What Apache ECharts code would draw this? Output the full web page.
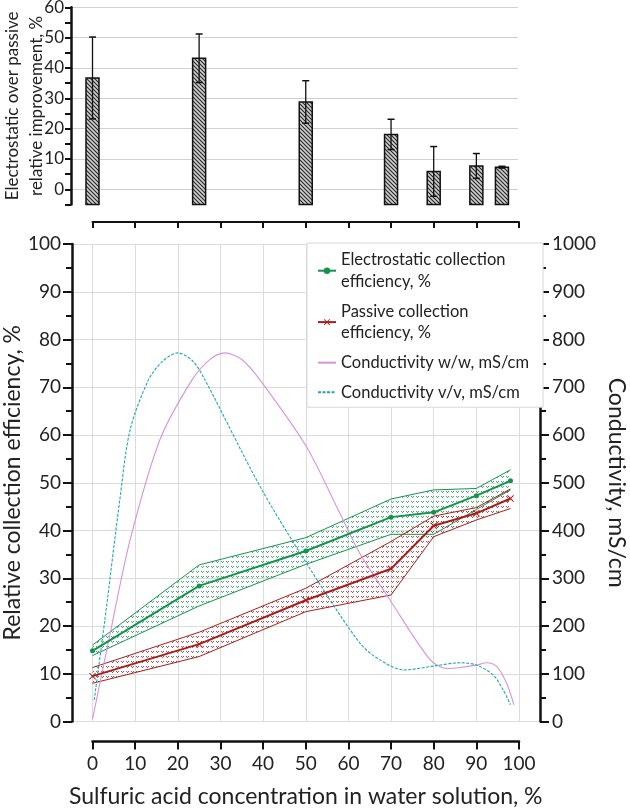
<!DOCTYPE html>
<html><head><meta charset="utf-8">
<script src="https://cdn.jsdelivr.net/npm/echarts@6/dist/echarts.min.js"></script>
<style>html,body{margin:0;padding:0;background:#fff}#c{width:630px;height:810px}</style>
</head><body><div id="c"></div>
<script>
// ---------- data ----------
const concentration = [0, 25, 50, 70, 80, 90, 98];
const elecEff   = [14.8, 28.4, 35.7, 42.8, 43.8, 47.3, 50.4];
const elecUpper = [16.0, 32.8, 38.5, 46.6, 48.5, 48.8, 52.7];
const elecLower = [13.8, 24.2, 32.9, 39.2, 39.2, 44.4, 48.5];
const passEff   = [9.5, 16.2, 25.4, 32.0, 41.0, 43.6, 46.7];
const passUpper = [11.3, 18.7, 27.9, 37.7, 43.0, 44.8, 48.7];
const passLower = [8.0, 13.6, 23.0, 26.5, 38.7, 42.2, 44.6];

const barConc = [0, 25, 50, 70, 80, 90, 96];
const improvement = [36.7, 43.2, 28.8, 18.1, 5.9, 7.7, 7.3];
const improvementErr = [13.5, 8.0, 7.0, 5.0, 8.2, 4.1, 0.3];

const condWWx = [0, 4.5, 8.8, 15.8, 23.3, 27.5, 31, 35, 39.3, 50.2, 58, 62.7, 69.8, 79.1, 83, 86.2, 90, 92.4, 94.8, 97.1, 98.8];
const condWW  = [5, 200, 380, 590, 715, 758, 772, 758, 715, 575, 436, 352, 254, 130, 111, 113, 118, 123, 115, 80, 35];
const condVVx = [0.4, 2.9, 6.4, 8.8, 13.1, 16.5, 20, 23.5, 26.4, 39.3, 50.2, 62.7, 67.4, 73, 79.9, 86.2, 90.1, 94, 96.3, 98];
const condVV  = [45, 213, 464, 610, 715, 755, 772, 755, 715, 492, 331, 164, 129, 108, 116, 123, 118, 97, 66, 35];

const xTicks = [0, 100, 10];
const names = ['Electrostatic collection efficiency, %', 'Passive collection efficiency, %', 'Conductivity w/w, mS/cm', 'Conductivity v/v, mS/cm'];
const legendText = ['Electrostatic collection\nefficiency, %', 'Passive collection\nefficiency, %', 'Conductivity w/w, mS/cm', 'Conductivity v/v, mS/cm'];

// ---------- layout ----------
const W = 630, H = 810;
const X0 = 92.5, X100 = 519, XS = (X100 - X0) / 100;
const FONT = 'Lato';
const GREEN = '#16924f', RED = '#a3201f', MAG = '#d693d9', TEAL = '#22a8a8';
const AX = '#111';

function hatch() {
  const s = 4, c = document.createElement('canvas'); c.width = s; c.height = s;
  const g = c.getContext('2d'); g.fillStyle = '#cfcfcf'; g.fillRect(0,0,s,s);
  g.strokeStyle = '#262626'; g.lineWidth = 1.1;
  g.beginPath(); g.moveTo(-1,-1); g.lineTo(s+1,s+1); g.moveTo(s-1,-1); g.lineTo(s+1,1); g.moveTo(-1,s-1); g.lineTo(1,s+1); g.stroke();
  return c;
}
function dots(col) {
  const s = 5, c = document.createElement('canvas'); c.width = s; c.height = s;
  const g = c.getContext('2d'); g.fillStyle = col;
  g.fillRect(1,1,1,1); g.fillRect(2,2,1,1); g.fillRect(3,1,1,1);
  return c;
}
const barPattern = {image: hatch(), repeat: 'repeat'};
const greenPattern = {image: dots('rgba(22,146,79,0.8)'), repeat: 'repeat'};
const redPattern = {image: dots('rgba(163,32,31,0.8)'), repeat: 'repeat'};

const pairs = (xs, ys) => xs.map((x, i) => [x, ys[i]]);
const triples = (xs, a, b) => xs.map((x, i) => [x, a[i], b[i]]);

const xMark = 'path://M0,1 L1,0 L5,4 L9,0 L10,1 L6,5 L10,9 L9,10 L5,6 L1,10 L0,9 L4,5 Z';

function bandRender(pattern) {
  return function (params, api) {
    const i = params.dataIndexInside;
    if (i >= params.dataInsideLength - 1) return null;
    const pts = [
      api.coord([api.value(0, i), api.value(1, i)]),
      api.coord([api.value(0, i + 1), api.value(1, i + 1)]),
      api.coord([api.value(0, i + 1), api.value(2, i + 1)]),
      api.coord([api.value(0, i), api.value(2, i)])
    ];
    return {type: 'polygon', shape: {points: pts}, style: {fill: pattern}};
  };
}

const chart = echarts.init(document.getElementById('c'), null, {renderer: 'canvas'});
const labelStyle = {color: '#222', fontFamily: FONT};
const TOPY = 7.3, TOPY0 = 189.3, TOPYB = 204.5, TOPXAX = 222;
const BT = 244, BB = 721.5, LAX = 72, RAX = 540;
const G = (l, r, t, b) => ({left: l, right: W - r, top: t, bottom: H - b, outerBoundsMode: 'none', containLabel: false});

chart.setOption({
  animation: false,
  textStyle: {fontFamily: FONT},
  grid: [
    G(X0 - 5 * XS, X100, TOPY, TOPYB),   // 0 bars
    G(71, 518, TOPY, TOPYB),             // 1 top y axis
    G(X0, X100, TOPY, TOPXAX),           // 2 top x axis
    G(LAX, RAX, BT, BB),                 // 3 bottom y axes
    G(X0, X100, BT, BB),                 // 4 bottom data + x axis
    G(71, 518, TOPY, TOPY0)              // 5 top gridlines
  ],
  xAxis: [
    {gridIndex: 0, type: 'value', show: false, min: -5, max: 100, interval: 5},
    {gridIndex: 1, type: 'value', show: false, min: 0, max: 1},
    {gridIndex: 2, type: 'value', min: xTicks[0], max: xTicks[1], interval: xTicks[2],
     axisLine: {onZero: false, lineStyle: {color: AX, width: 2}}, axisTick: {length: 6, lineStyle: {color: AX, width: 2}},
     axisLabel: {show: false}, splitLine: {show: false}},
    {gridIndex: 3, type: 'value', show: false, min: 0, max: 1},
    {gridIndex: 4, type: 'value', min: xTicks[0], max: xTicks[1], interval: xTicks[2], offset: 20,
     axisLine: {onZero: false, lineStyle: {color: AX, width: 2.5}}, axisTick: {length: 8, lineStyle: {color: AX, width: 2}},
     axisLabel: Object.assign({fontSize: 19, margin: 13}, labelStyle),
     splitLine: {lineStyle: {color: '#dcdcdc', width: 1}},
     name: 'Sulfuric acid concentration in water solution, %', nameLocation: 'middle', nameGap: 44,
     nameTextStyle: Object.assign({fontSize: 23}, labelStyle)},
    {gridIndex: 5, type: 'value', show: false, min: 0, max: 1}
  ],
  yAxis: [
    {gridIndex: 0, type: 'value', show: false, min: -5, max: 60, interval: 5},
    {gridIndex: 1, type: 'value', min: -5, max: 60, interval: 5,
     axisLine: {show: true, onZero: false, lineStyle: {color: AX, width: 2.5}},
     axisTick: {show: true, length: 6, lineStyle: {color: AX, width: 2}},
     axisLabel: Object.assign({fontSize: 17, margin: 7, formatter: v => (v % 10 === 0 ? String(v) : '')}, labelStyle),
     splitLine: {show: false},
     name: 'Electrostatic over passive\nrelative improvement, %', nameLocation: 'middle', nameGap: 22,
     nameMoveOverlap: false,
     nameTextStyle: Object.assign({fontSize: 17, lineHeight: 24}, labelStyle)},
    {gridIndex: 2, type: 'value', show: false, min: 0, max: 1},
    {gridIndex: 3, type: 'value', position: 'left', min: 0, max: 100, interval: 10,
     axisLine: {show: true, onZero: false, lineStyle: {color: AX, width: 2.5}},
     axisTick: {show: true, length: 9, lineStyle: {color: AX, width: 2}},
     minorTick: {show: true, splitNumber: 2, length: 6, lineStyle: {color: AX, width: 2}},
     axisLabel: Object.assign({fontSize: 19, margin: 11}, labelStyle),
     splitLine: {show: true, lineStyle: {color: '#dcdcdc', width: 1}},
     name: 'Relative collection efficiency, %', nameLocation: 'middle', nameGap: 48,
     nameMoveOverlap: false,
     nameTextStyle: Object.assign({fontSize: 23}, labelStyle)},
    {gridIndex: 3, type: 'value', position: 'right', min: 0, max: 1000, interval: 100,
     axisLine: {show: true, onZero: false, lineStyle: {color: AX, width: 2.5}},
     axisTick: {show: true, length: 9, lineStyle: {color: AX, width: 2}},
     minorTick: {show: true, splitNumber: 2, length: 6, lineStyle: {color: AX, width: 2}},
     axisLabel: Object.assign({fontSize: 19, margin: 12, formatter: v => String(v)}, labelStyle),
     splitLine: {show: false},
     name: 'Conductivity, mS/cm', nameLocation: 'middle', nameGap: 65, nameRotate: -90,
     nameMoveOverlap: false,
     nameTextStyle: Object.assign({fontSize: 23}, labelStyle)},
    {gridIndex: 4, type: 'value', show: false, min: 0, max: 100, interval: 10},
    {gridIndex: 4, type: 'value', show: false, min: 0, max: 1000, interval: 100},
    {gridIndex: 5, type: 'value', min: 0, max: 60, interval: 10,
     axisLine: {show: false}, axisTick: {show: false}, axisLabel: {show: false},
     splitLine: {show: true, lineStyle: {color: '#d0d0d0', width: 1.2}}}
  ],
  legend: {
    data: [
      {name: names[0]},
      {name: names[1]},
      {name: names[2], itemStyle: {opacity: 0}},
      {name: names[3], itemStyle: {opacity: 0}}
    ],
    orient: 'vertical', left: 307, top: 243,
    padding: [6, 14, 4, 10], itemGap: 8, itemWidth: 18, itemHeight: 8,
    backgroundColor: '#fff', borderColor: '#d8d8d8', borderWidth: 1,
    formatter: n => legendText[names.indexOf(n)],
    textStyle: {fontSize: 16.5, lineHeight: 21.7, color: '#222', fontFamily: FONT}
  },
  series: [
    {type: 'custom', xAxisIndex: 0, yAxisIndex: 0, silent: true, clip: false,
     data: barConc.map((x, i) => [x, improvement[i], improvementErr[i]]),
     renderItem: function (params, api) {
       const x = api.value(0), v = api.value(1), e = api.value(2);
       const base = api.coord([x, -5]), top = api.coord([x, v]);
       const eT = api.coord([x, v + e]), eB = api.coord([x, v - e]);
       const w = 13, cap = 3.5;
       return {type: 'group', children: [
         {type: 'rect', shape: {x: top[0] - w / 2, y: top[1], width: w, height: base[1] - top[1]},
          style: {fill: barPattern, stroke: '#111', lineWidth: 1.5}},
         {type: 'line', shape: {x1: eT[0], y1: eT[1], x2: eB[0], y2: eB[1]}, style: {stroke: '#111', lineWidth: 1.3}},
         {type: 'line', shape: {x1: eT[0] - cap, y1: eT[1], x2: eT[0] + cap, y2: eT[1]}, style: {stroke: '#111', lineWidth: 1.5}},
         {type: 'line', shape: {x1: eB[0] - cap, y1: eB[1], x2: eB[0] + cap, y2: eB[1]}, style: {stroke: '#111', lineWidth: 1.5}}
       ]};
     }},
    {type: 'custom', xAxisIndex: 4, yAxisIndex: 5, silent: true, encode: {x: 0, y: [1, 2]},
     data: triples(concentration, elecLower, elecUpper), renderItem: bandRender(greenPattern), z: 2},
    {type: 'custom', xAxisIndex: 4, yAxisIndex: 5, silent: true, encode: {x: 0, y: [1, 2]},
     data: triples(concentration, passLower, passUpper), renderItem: bandRender(redPattern), z: 2},
    {name: 'elecLower', type: 'line', xAxisIndex: 4, yAxisIndex: 5, symbol: 'none', silent: true,
     data: pairs(concentration, elecLower), lineStyle: {color: GREEN, width: 1}, z: 3},
    {name: 'elecUpper', type: 'line', xAxisIndex: 4, yAxisIndex: 5, symbol: 'none', silent: true,
     data: pairs(concentration, elecUpper), lineStyle: {color: GREEN, width: 1}, z: 3},
    {name: 'passLower', type: 'line', xAxisIndex: 4, yAxisIndex: 5, symbol: 'none', silent: true,
     data: pairs(concentration, passLower), lineStyle: {color: RED, width: 1}, z: 3},
    {name: 'passUpper', type: 'line', xAxisIndex: 4, yAxisIndex: 5, symbol: 'none', silent: true,
     data: pairs(concentration, passUpper), lineStyle: {color: RED, width: 1}, z: 3},
    {name: names[2], type: 'line', xAxisIndex: 4, yAxisIndex: 6, smooth: 0.3, symbol: 'none',
     data: pairs(condWWx, condWW), color: MAG, lineStyle: {color: MAG, width: 1.1}, z: 3},
    {name: names[3], type: 'line', xAxisIndex: 4, yAxisIndex: 6, smooth: 0.3, symbol: 'none',
     data: pairs(condVVx, condVV), color: TEAL, lineStyle: {color: TEAL, width: 1.1, type: [3, 1.5]}, z: 3},
    {name: names[0], type: 'line', xAxisIndex: 4, yAxisIndex: 5, symbol: 'circle', symbolSize: 5,
     data: pairs(concentration, elecEff), color: GREEN, itemStyle: {color: GREEN},
     lineStyle: {color: GREEN, width: 2}, z: 4},
    {name: names[1], type: 'line', xAxisIndex: 4, yAxisIndex: 5, symbol: xMark, symbolSize: 7,
     data: pairs(concentration, passEff), color: RED, itemStyle: {color: RED},
     lineStyle: {color: RED, width: 2}, z: 4}
  ]
});
</script></body></html>
